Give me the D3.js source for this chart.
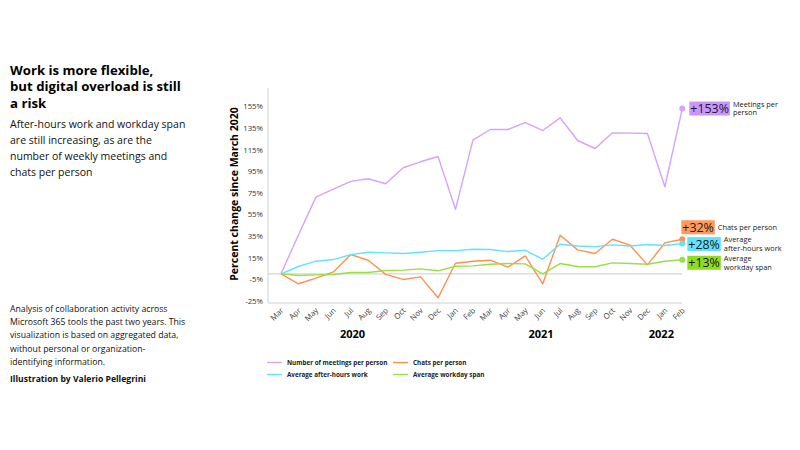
<!DOCTYPE html>
<html>
<head>
<meta charset="utf-8">
<script src="https://cdn.jsdelivr.net/npm/d3@7"></script>
<style>
  body { margin: 0; background: #fff; }
  svg { display: block; font-family: "Open Sans", "Noto Sans", sans-serif; }
</style>
</head>
<body>
<svg></svg>
<script>
// monthly data, Mar 2020 - Feb 2022, percent change since March 2020
let months = ["Mar", "Apr", "May", "Jun", "Jul", "Aug", "Sep", "Oct", "Nov", "Dec", "Jan", "Feb",
              "Mar", "Apr", "May", "Jun", "Jul", "Aug", "Sep", "Oct", "Nov", "Dec", "Jan", "Feb"];
let meetings = [0, 36, 71, 78.5, 85.6, 88, 83.4, 98.2, 103.7, 108.6, 59.7, 123.7,
                133.6, 133.6, 140, 132.7, 144.3, 123.4, 116, 130.5, 130.2, 129.9, 80.6, 153];
let afterHours = [0, 6.8, 11.7, 13.2, 17.8, 20, 19.4, 18.8, 20, 21.5, 21.5, 22.8,
                  22.5, 20.6, 21.8, 13.5, 27.4, 25.8, 25.2, 26.8, 25.8, 27.1, 26.2, 28];
let chats = [0, -9.2, -4, 1.8, 17.8, 12.6, -0.5, -5.2, -2.8, -22.2, 9.8, 11.7,
             12.6, 6.2, 16.6, -9.2, 35.7, 22.2, 18.8, 32, 26.5, 8.3, 28.6, 32];
let workday = [0, -1.5, -1, -0.6, 1.2, 1.2, 3.1, 3.4, 4.6, 2.8, 7, 7.4,
               8.9, 9.5, 9.2, 0, 9.5, 6.8, 6.5, 10.1, 9.5, 8.9, 11.7, 13];
let yTicks = [-25, -5, 15, 35, 55, 75, 95, 115, 135, 155];
let years = ["2020", "2021", "2022"];
let yearAt = [4.1, 14.9, 21.8];
let endValues = ["+153%", "+32%", "+28%", "+13%"];
let endNames = [["Meetings per", "person"], ["Chats per person"],
                ["Average", "after-hours work"], ["Average", "workday span"]];
let legendNames = ["Number of meetings per person", "Chats per person",
                   "Average after-hours work", "Average workday span"];

let width = 800;
let height = 450;

let series = [
  { values: meetings, color: "#d3a3ff", box: "#cb95ff", dx: 7, dy: 0 },
  { values: chats, color: "#ff9150", box: "#ff9a5c", dx: -1, dy: -12 },
  { values: afterHours, color: "#5fe3ff", box: "#5fe3ff", dx: 5, dy: 0.5 },
  { values: workday, color: "#97e043", box: "#8ddd1f", dx: 5, dy: 3 }
];

let plotLeft = 268, plotRight = 682, plotTop = 88, plotBottom = 303;

let xScale = d3.scaleLinear()
    .domain([0, months.length - 1])
    .range([281, 682.3]);

let yScale = d3.scaleLinear()
    .domain([-27, 172])
    .range([plotBottom, plotTop]);

let svg = d3.select("svg")
    .attr("width", width)
    .attr("height", height);

// left text block
let title = svg.append("text")
    .attr("x", 10)
    .attr("font-weight", "bold")
    .attr("font-size", 13.2)
    .attr("fill", "#000");
["Work is more flexible,", "but digital overload is still", "a risk"].forEach((t, i) => {
  title.append("tspan").attr("x", 10).attr("y", 74.5 + i * 16.5).text(t);
});

let sub = svg.append("text")
    .attr("font-size", 10.5)
    .attr("fill", "#111");
["After-hours work and workday span", "are still increasing, as are the",
 "number of weekly meetings and", "chats per person"].forEach((t, i) => {
  sub.append("tspan").attr("x", 10).attr("y", 128 + i * 16).text(t);
});

let note = svg.append("text")
    .attr("font-size", 8.7)
    .attr("fill", "#111");
["Analysis of collaboration activity across", "Microsoft 365 tools the past two years. This",
 "visualization is based on aggregated data,", "without personal or organization-",
 "identifying information."].forEach((t, i) => {
  note.append("tspan").attr("x", 10).attr("y", 312 + i * 13.2).text(t);
});

svg.append("text")
    .attr("x", 10)
    .attr("y", 382)
    .attr("font-size", 8.6)
    .attr("font-weight", "bold")
    .attr("fill", "#111")
    .text("Illustration by Valerio Pellegrini");

// axes frame and zero line
svg.append("line")
    .attr("x1", plotLeft).attr("x2", plotLeft)
    .attr("y1", plotTop).attr("y2", plotBottom)
    .attr("stroke", "#d0d0d0");

svg.append("line")
    .attr("x1", plotLeft).attr("x2", plotRight)
    .attr("y1", plotBottom).attr("y2", plotBottom)
    .attr("stroke", "#d0d0d0")
    .attr("stroke-width", 1.2);

svg.append("line")
    .attr("x1", plotLeft).attr("x2", plotRight)
    .attr("y1", yScale(0)).attr("y2", yScale(0))
    .attr("stroke", "#d6d6d6")
    .attr("stroke-width", 1.2);

let yAxis = d3.axisLeft(yScale)
    .tickValues(yTicks)
    .tickFormat(d => d + "%")
    .tickSize(0)
    .tickPadding(5);

let yg = svg.append("g")
    .attr("transform", "translate(" + plotLeft + ",0)")
    .call(yAxis);
yg.select(".domain").remove();
yg.selectAll("text")
    .attr("font-family", "Open Sans, sans-serif")
    .attr("font-size", 7.8)
    .attr("fill", "#333");

svg.append("text")
    .attr("transform", "rotate(-90)")
    .attr("x", -194)
    .attr("y", 238)
    .attr("text-anchor", "middle")
    .attr("font-size", 10.5)
    .attr("font-weight", "bold")
    .attr("fill", "#000")
    .text("Percent change since March 2020");

// month labels, rotated
svg.append("g")
    .selectAll("text")
    .data(months)
    .enter()
    .append("text")
    .attr("transform", (d, i) => "translate(" + (xScale(i) + 3) + "," + 311 + ") rotate(-45)")
    .attr("text-anchor", "end")
    .attr("font-size", 7.8)
    .attr("fill", "#444")
    .text(d => d);

svg.append("g")
    .selectAll("text")
    .data(years)
    .enter()
    .append("text")
    .attr("x", (d, i) => xScale(yearAt[i]))
    .attr("y", 338)
    .attr("text-anchor", "middle")
    .attr("font-size", 11)
    .attr("font-weight", "bold")
    .attr("fill", "#000")
    .text(d => d);

// lines
let line = d3.line()
    .x((d, i) => xScale(i))
    .y(d => yScale(d));

svg.append("g")
    .selectAll("path")
    .data(series)
    .enter()
    .append("path")
    .attr("d", d => line(d.values))
    .attr("fill", "none")
    .attr("stroke", d => d.color)
    .attr("stroke-width", 1.4)
    .attr("stroke-linejoin", "round");

// end dots and labels
let last = months.length - 1;
series.forEach((s, i) => {
  let v = s.values[last];
  let cx = xScale(last), cy = yScale(v);
  svg.append("circle")
      .attr("cx", cx).attr("cy", cy).attr("r", 3)
      .attr("fill", s.color);

  let g = svg.append("g")
      .attr("transform", "translate(" + (cx + s.dx) + "," + (cy + s.dy) + ")");
  let rect = g.append("rect").attr("fill", s.box);
  let t = g.append("text")
      .attr("x", 1)
      .attr("y", 4.5)
      .attr("font-size", 12.4)
      .attr("fill", "#1a1a1a")
      .text(endValues[i]);
  let tw = t.node().getComputedTextLength();
  rect.attr("x", 0).attr("y", -7).attr("width", tw + 2).attr("height", 14);

  let names = endNames[i];
  let lab = g.append("text")
      .attr("font-size", 7.4)
      .attr("fill", "#222");
  names.forEach((n, j) => {
    lab.append("tspan")
        .attr("x", tw + 5)
        .attr("y", (j - (names.length - 1) / 2) * 8.5 + 2.5)
        .text(n);
  });
});

// legend
let legend = svg.append("g")
    .selectAll("g")
    .data(series)
    .enter()
    .append("g")
    .attr("transform", (d, i) => "translate(" + (267 + (i % 2) * 126) + "," + (362.5 + Math.floor(i / 2) * 12) + ")");

legend.append("line")
    .attr("x1", 0).attr("x2", 15)
    .attr("stroke", d => d.color)
    .attr("stroke-width", 1.4);

legend.append("text")
    .attr("x", 20)
    .attr("y", 2.4)
    .attr("font-size", 6.3)
    .attr("font-weight", "bold")
    .attr("fill", "#222")
    .text((d, i) => legendNames[i]);
</script>
</body>
</html>
